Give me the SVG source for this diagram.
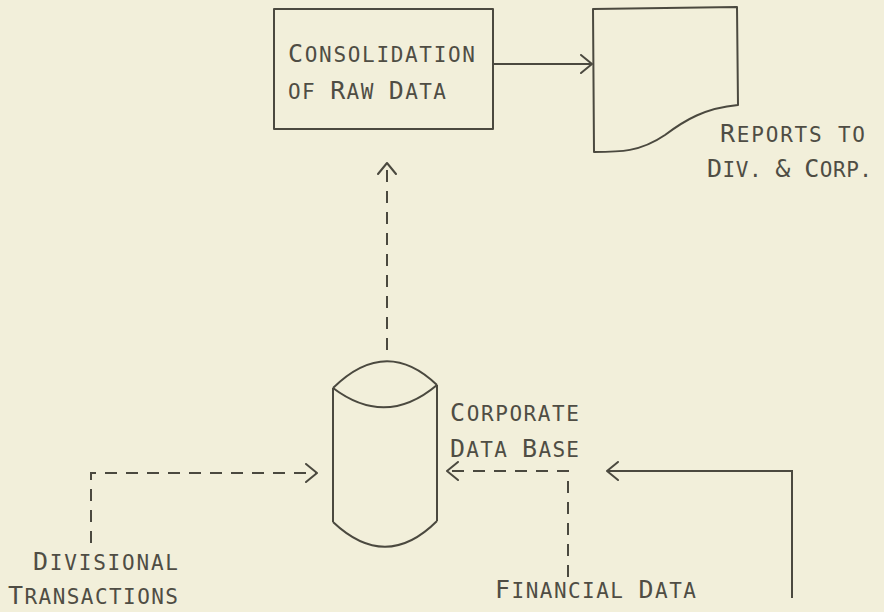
<svg xmlns="http://www.w3.org/2000/svg" width="884" height="612" viewBox="0 0 884 612">
  <style>
    .shape { fill: none; stroke: #4b493f; stroke-width: 2; stroke-linejoin: round; }
    .line { fill: none; stroke: #4b493f; stroke-width: 2; }
    .dash { stroke-dasharray: 12 9; }
    .lbl { font-family: "DejaVu Sans Mono", "Liberation Mono", monospace; fill: #4f4d44; font-size: 21px; }
    .big { font-size: 25px; }
  </style>
  <defs>
    <marker id="open" viewBox="0 0 13 20" refX="12" refY="10" markerWidth="13" markerHeight="20" markerUnits="userSpaceOnUse" orient="auto">
      <path d="M1,1 L12,10 L1,19" fill="none" stroke="#4b493f" stroke-width="2" stroke-linecap="round" stroke-linejoin="round"/>
    </marker>
  </defs>
  <rect width="884" height="612" fill="#f2efda"/>

  <g id="consolidation">
    <rect class="shape" x="274" y="9" width="219" height="120"/>
    <text class="lbl" x="288" y="62" textLength="187" lengthAdjust="spacing"><tspan class="big">C</tspan>ONSOLIDATION</text>
    <text class="lbl" x="288" y="99" textLength="158" lengthAdjust="spacing">OF <tspan class="big">R</tspan>AW <tspan class="big">D</tspan>ATA</text>
  </g>

  <g id="reports">
    <path class="shape" d="M593,9 L737,7 L738,105 C705,108 685,120 665,135 C640,152 620,152 594,152 Z"/>
    <text class="lbl" x="720" y="142" textLength="145" lengthAdjust="spacing"><tspan class="big">R</tspan>EPORTS TO</text>
    <text class="lbl" x="707" y="177" textLength="165" lengthAdjust="spacing"><tspan class="big">D</tspan>IV. <tspan class="big">&amp;</tspan> <tspan class="big">C</tspan>ORP.</text>
  </g>

  <g id="database">
    <path class="shape" d="M333,388 Q386,336 437,385 M333,388 Q386,428 437,385 M333,388 L333,522 M437,385 L437,521 M333,522 Q386,572 437,521"/>
    <text class="lbl" x="450" y="421" textLength="129" lengthAdjust="spacing"><tspan class="big">C</tspan>ORPORATE</text>
    <text class="lbl" x="450" y="457" textLength="129" lengthAdjust="spacing"><tspan class="big">D</tspan>ATA <tspan class="big">B</tspan>ASE</text>
  </g>

  <g id="divisional">
    <text class="lbl" x="33" y="570" textLength="145" lengthAdjust="spacing"><tspan class="big">D</tspan>IVISIONAL</text>
    <text class="lbl" x="8" y="604" textLength="170" lengthAdjust="spacing"><tspan class="big">T</tspan>RANSACTIONS</text>
  </g>

  <g id="financial">
    <text class="lbl" x="495" y="598" textLength="201" lengthAdjust="spacing"><tspan class="big">F</tspan>INANCIAL <tspan class="big">D</tspan>ATA</text>
  </g>

  <g id="connectors">
    <line class="line" x1="493" y1="64" x2="592" y2="64" marker-end="url(#open)"/>
    <line class="line dash" x1="387" y1="350" x2="387" y2="163" marker-end="url(#open)"/>
    <polyline class="line dash" points="91,543 91,473 317,473" marker-end="url(#open)"/>
    <polyline class="line dash" points="568,577 568,471 447,471" marker-end="url(#open)"/>
    <polyline class="line" points="792,598 792,471 607,471" marker-end="url(#open)"/>
  </g>
</svg>
